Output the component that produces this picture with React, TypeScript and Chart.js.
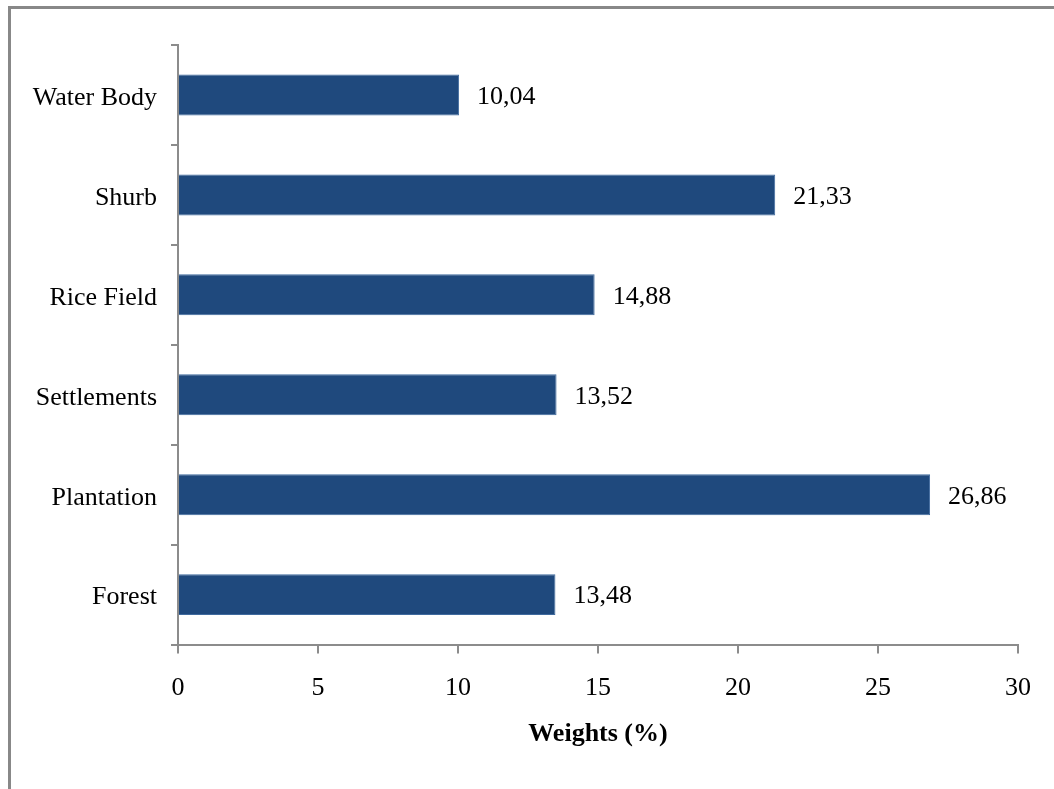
import React, { useEffect, useRef } from "react";
import { Chart, registerables } from "chart.js";

Chart.register(...registerables);

const categories = ["Water Body", "Shurb", "Rice Field", "Settlements", "Plantation", "Forest"];
const weights = [10.04, 21.33, 14.88, 13.52, 26.86, 13.48];
const xTicks = [0, 5, 10, 15, 20, 25, 30];
const xTitle = "Weights (%)";

const FONT = "'Liberation Serif', 'Times New Roman', serif";

const valueLabels = {
  id: "valueLabels",
  afterDatasetsDraw(chart: any) {
    const ctx = chart.ctx;
    const meta = chart.getDatasetMeta(0);
    ctx.save();
    ctx.font = `26px ${FONT}`;
    ctx.fillStyle = "#000";
    ctx.textAlign = "left";
    ctx.textBaseline = "middle";
    meta.data.forEach((bar: any, i: number) => {
      const v = chart.data.datasets[0].data[i] as number;
      ctx.fillText(v.toFixed(2).replace(".", ","), bar.x + 18, bar.y + 2);
    });
    ctx.restore();
  },
};

export default function App() {
  const ref = useRef<HTMLCanvasElement>(null);
  useEffect(() => {
    if (!ref.current) return;
    const chart = new Chart(ref.current, {
      type: "bar",
      data: {
        labels: categories,
        datasets: [
          {
            data: weights,
            backgroundColor: "#1F497D",
            borderColor: "#3f6a9e",
            borderWidth: 1,
            categoryPercentage: 1,
            barPercentage: 0.41,
          },
        ],
      },
      options: {
        indexAxis: "y",
        responsive: false,
        animation: false,
        layout: { padding: { top: 45, right: 36, left: 0, bottom: 39 } },
        plugins: { legend: { display: false }, tooltip: { enabled: false } },
        scales: {
          x: {
            min: 0,
            max: 30,
            afterBuildTicks: (scale: any) => {
              scale.ticks = xTicks.map((v) => ({ value: v }));
            },
            border: { color: "#8c8c8c", width: 2 },
            grid: { drawOnChartArea: false, tickLength: 9, color: "#8c8c8c", lineWidth: 2 },
            ticks: { color: "#000", font: { family: FONT, size: 26 }, padding: 19, maxRotation: 0 },
            title: {
              display: true,
              text: xTitle,
              color: "#000",
              font: { family: FONT, size: 26, weight: "bold" },
              padding: { top: -4, bottom: 0 },
            },
          },
          y: {
            afterFit: (scale: any) => {
              scale.width = 178;
            },
            border: { color: "#8c8c8c", width: 2 },
            grid: { drawOnChartArea: false, tickLength: 7, color: "#8c8c8c", lineWidth: 2, offset: true },
            ticks: { color: "#000", font: { family: FONT, size: 26 }, padding: 14, labelOffset: 3 },
          },
        },
      },
      plugins: [valueLabels],
    });
    return () => chart.destroy();
  }, []);
  return (
    <div style={{ position: "fixed", left: 0, top: 0, width: 1054, height: 789, background: "#fff" }}>
      <canvas ref={ref} width={1054} height={789} style={{ position: "absolute", left: 0, top: 0 }} />
      <div
        style={{
          position: "absolute",
          left: 8,
          top: 6,
          right: 0,
          bottom: 0,
          borderTop: "3px solid #888",
          borderLeft: "3px solid #888",
          pointerEvents: "none",
        }}
      />
    </div>
  );
}
